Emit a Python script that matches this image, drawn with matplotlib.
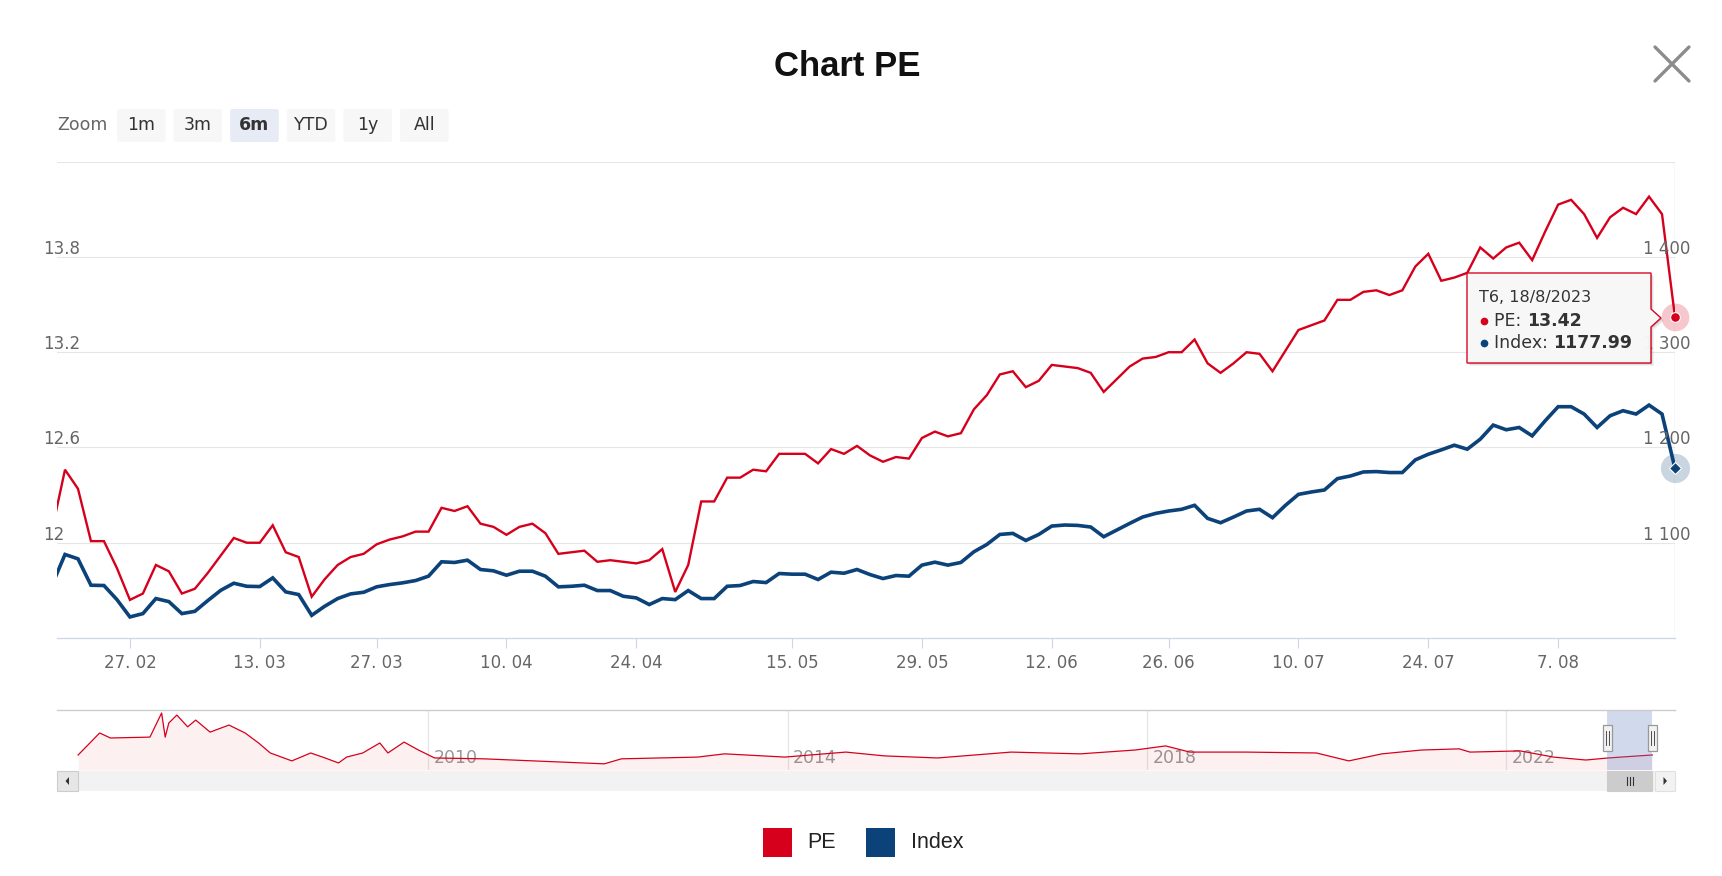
import numpy as np
import matplotlib
matplotlib.use('Agg')
import matplotlib.pyplot as plt
from matplotlib.patches import Rectangle, FancyBboxPatch, Polygon
import matplotlib.transforms as mtransforms

# ---------------- data ----------------
# trading days from 17/2/2023 to 18/8/2023 (ordinal axis, first point is 17/2)
pe = [
    12.08,
    12.46, 12.34, 12.01, 12.01, 11.84,
    11.64, 11.68, 11.86, 11.82, 11.68,
    11.71, 11.81, 11.92, 12.03, 12.00,
    12.00, 12.11, 11.94, 11.91, 11.66,
    11.77, 11.86, 11.91, 11.93, 11.99,
    12.02, 12.04, 12.07, 12.07, 12.22,
    12.20, 12.23, 12.12, 12.10, 12.05,
    12.10, 12.12, 12.06, 11.93, 11.94,
    11.95, 11.88, 11.89, 11.88, 11.87,
    11.89, 11.96, 11.69, 11.86, 12.26,
    12.26, 12.41, 12.41, 12.46, 12.45,
    12.56, 12.56, 12.56, 12.50, 12.59,
    12.56, 12.61, 12.55, 12.51, 12.54,
    12.53, 12.66, 12.70, 12.67, 12.69,
    12.84, 12.93, 13.06, 13.08, 12.98,
    13.02, 13.12, 13.11, 13.10, 13.07,
    12.95, 13.03, 13.11, 13.16, 13.17,
    13.20, 13.20, 13.28, 13.13, 13.07,
    13.13, 13.20, 13.19, 13.08, 13.21,
    13.34, 13.37, 13.40, 13.53, 13.53,
    13.58, 13.59, 13.56, 13.59, 13.74,
    13.82, 13.65, 13.67, 13.70, 13.86,
    13.79, 13.86, 13.89, 13.78, 13.96,
    14.13, 14.16, 14.07, 13.92, 14.05,
    14.11, 14.07, 14.18, 14.07, 13.42,
]
index = [
    1055.6,
    1087.7, 1083.1, 1055.4, 1055.1, 1040.3,
    1022.1, 1025.6, 1041.4, 1038.2, 1025.6,
    1028.0, 1039.3, 1050.1, 1057.5, 1054.3,
    1054.0, 1063.1, 1048.4, 1045.6, 1023.8,
    1033.3, 1041.4, 1046.3, 1048.0, 1053.7,
    1056.1, 1057.9, 1060.3, 1064.9, 1080.0,
    1079.3, 1081.7, 1071.9, 1070.5, 1065.9,
    1070.1, 1070.1, 1064.9, 1053.7, 1054.3,
    1055.4, 1049.8, 1049.8, 1043.8, 1042.1,
    1035.1, 1041.4, 1040.3, 1049.8, 1041.4,
    1041.4, 1054.3, 1055.1, 1059.3, 1058.2,
    1067.7, 1067.0, 1067.0, 1061.4, 1069.1,
    1068.0, 1071.9, 1066.6, 1062.4, 1065.6,
    1064.9, 1076.5, 1079.6, 1076.5, 1079.3,
    1090.5, 1098.2, 1108.7, 1109.8, 1102.4,
    1108.7, 1117.5, 1118.6, 1118.2, 1116.5,
    1106.3, 1113.3, 1120.3, 1127.0, 1130.8,
    1133.3, 1135.1, 1139.3, 1125.6, 1121.0,
    1127.0, 1133.3, 1135.1, 1126.3, 1139.3,
    1150.8, 1153.3, 1155.4, 1167.3, 1170.1,
    1174.3, 1174.7, 1173.7, 1173.7, 1187.0,
    1192.9, 1197.5, 1202.4, 1198.2, 1208.7,
    1223.5, 1218.6, 1221.0, 1212.2, 1228.0,
    1242.8, 1242.8, 1235.1, 1221.0, 1233.3,
    1238.6, 1235.1, 1244.5, 1235.1, 1177.99,
]
x_tick_pos = [6, 16, 25, 35, 45, 57, 67, 77, 86, 96, 106, 116]
x_tick_labels = ['27. 02', '13. 03', '27. 03', '10. 04', '24. 04', '15. 05',
                 '29. 05', '12. 06', '26. 06', '10. 07', '24. 07', '7. 08']
pe_ticks = [12.0, 12.6, 13.2, 13.8]
pe_grid = [12.0, 12.6, 13.2, 13.8, 14.4]
index_ticks = [1100, 1200, 1300, 1400]
tooltip_date = 'T6, 18/8/2023'

# navigator (full history of PE)
nav_year = [2006.10, 2006.34, 2006.46, 2006.90, 2007.03, 2007.07, 2007.11, 2007.20,
            2007.32, 2007.41, 2007.57, 2007.78, 2007.96, 2008.11, 2008.24, 2008.48,
            2008.69, 2008.85, 2009.00, 2009.09, 2009.27, 2009.46, 2009.55, 2009.73,
            2009.89, 2010.07, 2010.62, 2011.17, 2011.96, 2012.15, 2013.00, 2013.30,
            2013.97, 2014.65, 2015.08, 2015.67, 2016.49, 2017.26, 2017.87, 2018.21,
            2018.48, 2019.10, 2019.89, 2020.25, 2020.62, 2021.06, 2021.48, 2021.60,
            2022.16, 2022.53, 2022.89, 2023.14, 2023.63]
nav_pe = [13.4, 20.9, 19.2, 19.5, 27.7, 19.5, 24.3, 27.0, 23.0, 25.3, 21.2, 23.6,
          20.9, 17.5, 14.1, 11.4, 14.1, 12.4, 10.7, 12.7, 14.1, 17.5, 14.1, 17.8,
          15.1, 12.4, 12.1, 11.4, 10.4, 12.1, 12.7, 13.8, 12.7, 14.4, 13.1, 12.4,
          14.4, 13.8, 15.1, 16.5, 14.4, 14.4, 14.1, 11.4, 13.8, 15.1, 15.5, 14.4,
          14.8, 12.7, 11.7, 12.4, 13.42]
nav_years_labels = [2010, 2014, 2018, 2022]
nav_sel = (2023.13, 2023.63)

zoom_buttons = ['1m', '3m', '6m', 'YTD', '1y', 'All']
zoom_selected = '6m'

# ---------------- style ----------------
RED = '#d6001c'
BLUE = '#0b4279'
GRID = '#e6e6e6'
LAB = '#666666'

W, H = 1722, 876
fig = plt.figure(figsize=(W / 100, H / 100), dpi=100)
fig.patch.set_facecolor('white')


def fx(px):
    return px / W


def fy(py):
    return 1 - py / H


# ---------------- main chart ----------------
L, R, T, B = 57, 1675, 161.7, 638
ax = fig.add_axes([fx(L), fy(B), (R - L) / W, (B - T) / H])
ax2 = ax.twinx()
x = np.arange(len(pe))

ax.set_xlim(0.384, len(pe) - 1)
ax.set_ylim(11.4, 14.4)
ax2.set_ylim(1000, 1500)

for a in (ax, ax2):
    for s in a.spines.values():
        s.set_visible(False)
ax.spines['bottom'].set_visible(True)
ax.spines['bottom'].set_color('#ccd6eb')
ax.spines['bottom'].set_linewidth(0.9)

ax.set_yticks(pe_grid)
ax.grid(axis='y', color=GRID, lw=0.8)
ax.tick_params(axis='y', length=0, labelleft=False)
ax2.set_yticks([])
ax.set_axisbelow(True)

ax.set_xticks(x_tick_pos, x_tick_labels)
ax.tick_params(axis='x', length=7.2, width=0.8, color='#ccd6eb',
               labelcolor=LAB, labelsize=12, pad=4)

ax.plot(x, pe, color=RED, lw=1.7, zorder=3, solid_joinstyle='miter')
ax2.plot(x, index, color=BLUE, lw=2.6, zorder=3, solid_joinstyle='miter')

# crosshair and hover markers
ax.axvline(x[-1], color='#cccccc', lw=0.9, zorder=2)
ax.plot([x[-1]], [pe[-1]], 'o', ms=20, color=RED, alpha=0.22, mec='none', clip_on=False, zorder=5)
ax.plot([x[-1]], [pe[-1]], 'o', ms=7, color=RED, mec='white', mew=0.8, clip_on=False, zorder=6)
ax2.plot([x[-1]], [index[-1]], 'o', ms=21, color=BLUE, alpha=0.22, mec='none', clip_on=False, zorder=5)
ax2.plot([x[-1]], [index[-1]], 'D', ms=6.5, color=BLUE, mec='white', mew=0.8, clip_on=False, zorder=6)

tl = mtransforms.blended_transform_factory(ax.transAxes, ax.transData)
for v in pe_ticks:
    ax.annotate(f'{v:g}', xy=(-0.0087, v), xycoords=tl, xytext=(0, 2.2),
                textcoords='offset points', ha='left', va='baseline',
                fontsize=12, color=LAB, annotation_clip=False, zorder=7)
tr = mtransforms.blended_transform_factory(ax2.transAxes, ax2.transData)
for v in index_ticks:
    ax2.annotate(f'{v:,.0f}'.replace(',', ' '), xy=(1.0093, v), xycoords=tr,
                 xytext=(0, 2.2), textcoords='offset points', ha='right',
                 va='baseline', fontsize=12, color=LAB, annotation_clip=False, zorder=7)

# ---------------- navigator ----------------
NT, NB = 709.5, 770
nav = fig.add_axes([fx(L), fy(NB), (R - L) / W, (NB - NT) / H])
nav_x0, nav_x1 = 2005.865, 2023.883
nav.set_xlim(nav_x0, nav_x1)
nav.set_ylim(8.3, 28.9)
for s in nav.spines.values():
    s.set_visible(False)
nav.set_xticks([])
nav.set_yticks([])
for yr in nav_years_labels:
    nav.axvline(yr, color=GRID, lw=0.9, zorder=0)
    nav.annotate(str(yr), xy=(yr, 0.2), xycoords=mtransforms.blended_transform_factory(nav.transData, nav.transAxes),
                 xytext=(4, 0), textcoords='offset points', ha='left', va='center',
                 fontsize=12.5, color='#999999', zorder=1)
nav.fill_between(nav_year, nav_pe, 8.3, color=RED, alpha=0.06, lw=0, zorder=1)
nav.plot(nav_year, nav_pe, color=RED, lw=0.9, zorder=2)
nav.axvspan(nav_sel[0], nav_sel[1], color='#6685c2', alpha=0.3, lw=0, zorder=3)


def nav_px(yr):
    return L + (yr - nav_x0) / (nav_x1 - nav_x0) * (R - L)


# ---------------- overlay (UI chrome) ----------------
ov = fig.add_axes([0, 0, 1, 1])
ov.set_xlim(0, W)
ov.set_ylim(H, 0)
ov.axis('off')
ov.set_zorder(10)
ov.patch.set_alpha(0)

# title
ov.text(847, 67, 'Chart PE', ha='center', va='center', fontsize=25,
        fontweight='bold', family=['Liberation Sans', 'DejaVu Sans'], color='#111111')

# close X
ov.plot([1655, 1689], [47, 81], color='#8c8c8c', lw=2.4, solid_capstyle='round')
ov.plot([1655, 1689], [81, 47], color='#8c8c8c', lw=2.4, solid_capstyle='round')

# zoom buttons
ov.text(57, 125, 'Zoom', ha='left', va='center', fontsize=12.5, color='#666666')
for k, lab in enumerate(zoom_buttons):
    bx = 117 + k * 56.6
    sel = lab == zoom_selected
    ov.add_patch(FancyBboxPatch((bx, 109), 48.5, 33, boxstyle='round,pad=0,rounding_size=2',
                                fc='#e6ebf5' if sel else '#f7f7f7', ec='none'))
    ov.text(bx + 24.25, 124.5, lab, ha='center', va='center', fontsize=12.5,
            color='#333333', fontweight='bold' if sel else 'normal')

# navigator outline
ov.plot([L, R], [NT, NT], color='#cccccc', lw=1)
# handles
for yr in nav_sel:
    hx = nav_px(yr)
    ov.add_patch(Rectangle((hx - 4.5, 725), 9, 26, fc='#f2f2f2', ec='#999999', lw=0.9))
    ov.plot([hx - 1.3, hx - 1.3], [731, 745], color='#333333', lw=0.6)
    ov.plot([hx + 1.3, hx + 1.3], [731, 745], color='#333333', lw=0.6)

# scrollbar
SY, SH = 771, 20
ov.add_patch(Rectangle((L, SY), R - L, SH, fc='#f2f2f2', ec='none'))
tx0, tx1 = nav_px(nav_sel[0]), nav_px(nav_sel[1])
ov.add_patch(Rectangle((tx0, SY), tx1 - tx0, SH, fc='#cccccc', ec='#cccccc', lw=0.8))
cx = (tx0 + tx1) / 2
for dx in (-3, 0, 3):
    ov.plot([cx + dx, cx + dx], [SY + 6, SY + 14], color='#333333', lw=0.8)
ov.add_patch(Rectangle((L, SY), 21, SH, fc='#e6e6e6', ec='#cccccc', lw=0.8))
ov.add_patch(Polygon([(L + 12, SY + 6), (L + 12, SY + 14), (L + 8.5, SY + 10)], closed=True, fc='#333333', ec='none'))
ov.add_patch(Rectangle((R - 20, SY), 20, SH, fc='#f2f2f2', ec='#e0e0e0', lw=0.8))
ov.add_patch(Polygon([(R - 11.5, SY + 6), (R - 11.5, SY + 14), (R - 8, SY + 10)], closed=True, fc='#333333', ec='none'))

# legend
ov.add_patch(Rectangle((763, 828), 29, 29, fc=RED, ec='none'))
ov.text(807, 843, 'PE', ha='left', va='center', fontsize=15.5,
        family=['Liberation Sans', 'DejaVu Sans'], color='#222222')
ov.add_patch(Rectangle((866, 828), 29, 29, fc=BLUE, ec='none'))
ov.text(911, 843, 'Index', ha='left', va='center', fontsize=15.5,
        family=['Liberation Sans', 'DejaVu Sans'], color='#222222')

# tooltip
tip = [(1467, 273), (1651, 273), (1651, 309), (1661, 318), (1651, 327), (1651, 363), (1467, 363)]
for off, al in ((3, 0.05), (2, 0.08), (1, 0.12)):
    ov.add_patch(Polygon([(px + off, py + off) for px, py in tip], closed=True,
                         fc='black', ec='none', alpha=al))
ov.add_patch(Polygon(tip, closed=True, fc='#f9f9f9', ec=RED, lw=1.0, alpha=0.97))
ov.text(1479, 298, tooltip_date, ha='left', va='center', fontsize=11.5, color='#333333')
ov.plot([1484], [320.5], 'o', ms=4.5, color=RED)
t1 = ov.text(1494, 320.5, 'PE: ', ha='left', va='center', fontsize=12.5, color='#333333')
ov.annotate(f'{pe[-1]:.2f}', xy=(1, 0.5), xycoords=t1, ha='left', va='center',
            fontsize=12.5, fontweight='bold', color='#333333')
ov.plot([1484], [343], 'o', ms=4.5, color=BLUE)
t2 = ov.text(1494, 343, 'Index: ', ha='left', va='center', fontsize=12.5, color='#333333')
ov.annotate(f'{index[-1]:.2f}', xy=(1, 0.5), xycoords=t2, ha='left', va='center',
            fontsize=12.5, fontweight='bold', color='#333333')

fig.savefig('out.png', dpi=100)
